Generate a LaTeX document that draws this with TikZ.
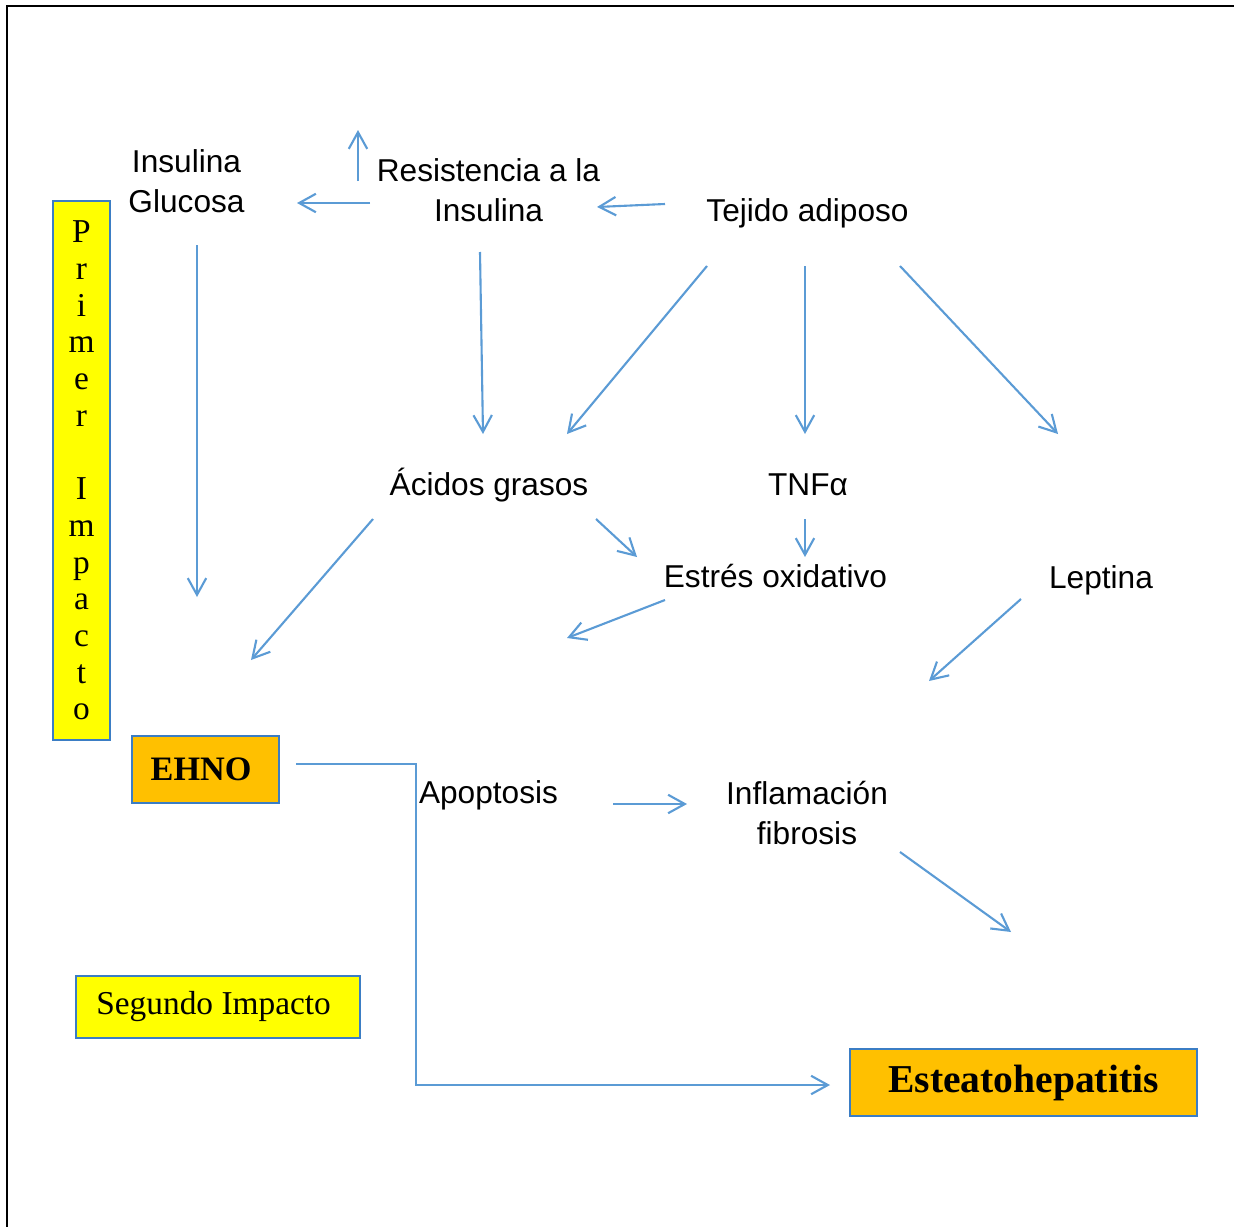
\documentclass[tikz,border=0pt]{standalone}
\usepackage{fontspec}
\setmainfont{Liberation Serif}
\setsansfont{Liberation Sans}
\usetikzlibrary{arrows.meta}
\usetikzlibrary{positioning}
\definecolor{FlechaAzul}{HTML}{5B9BD5}
\definecolor{BordeAzul}{HTML}{3B7DC4}
\definecolor{Amarillo}{HTML}{FFFF00}
\definecolor{Naranja}{HTML}{FFC000}
\tikzset{
  lbl/.style={font=\sffamily\fontsize{18}{22.5}\selectfont, inner sep=0pt, align=center},
  arr/.style={draw=FlechaAzul, line width=1.2pt, -{Straight Barb[length=9.5pt,width=10.5pt]}},
  caja/.style={rectangle, draw=BordeAzul, line width=0.7pt, inner sep=0pt, align=center},
}

\begin{document}
\begin{tikzpicture}[x=0.02cm, y=-0.02cm]
  \useasboundingbox (0,0) rectangle (1234,1227);
  % marco
  \draw[black, line width=1.1pt] (7,1227) -- (7,6) -- (1234,6);
  %
  % textos
  \node [lbl] (insglu) at (186.5,181) {Insulina\\Glucosa};
  \node [lbl] (resist) at (488.5,190) {Resistencia a la\\Insulina};
  \node [lbl, anchor=base] (tejido) at (807.5,221) {Tejido adiposo};
  \node [lbl, anchor=base] (acidos) at (489,495) {Ácidos grasos};
  \node [lbl, anchor=base] (tnf) at (808,495) {TNFα};
  \node [lbl, anchor=base] (estres) at (775.5,587) {Estrés oxidativo};
  \node [lbl, anchor=base] (leptina) at (1101,588) {Leptina};
  \node [lbl, anchor=base] (apoptosis) at (488.5,803) {Apoptosis};
  \node [lbl] (inflam) at (807,813) {Inflamación\\fibrosis};
  %
  % cajas
  \node [caja, fill=Amarillo, minimum width=1.14cm, minimum height=10.78cm,
    font=\fontsize{19}{20.9}\selectfont] (primer) at (81.5,470.5)
    {P\\r\\i\\m\\e\\r\\\mbox{}\\I\\m\\p\\a\\c\\t\\o};
  \node [caja, fill=Naranja, minimum width=2.94cm, minimum height=1.34cm,
    font=\bfseries\fontsize{19.5}{24}\selectfont] (ehno) at (205.5,769.5) {EHNO\hspace{5pt}};
  \node [caja, fill=Amarillo, minimum width=5.68cm, minimum height=1.24cm,
    font=\fontsize{19}{23}\selectfont] (segundo) at (218,1007) {Segundo Impacto\hspace{5pt}};
  \node [caja, fill=Naranja, minimum width=6.94cm, minimum height=1.34cm,
    font=\bfseries\fontsize{22.5}{26}\selectfont] (esteato) at (1023.5,1082.5) {Esteatohepatitis};
  %
  % extremos de las flechas
  \coordinate (resA) at (358,181);   \coordinate (resB) at (358,130);
  \coordinate (resC) at (370,203);   \coordinate (igE) at (297,203);
  \coordinate (tejA) at (665,204);   \coordinate (resE) at (597,207);
  \coordinate (igA) at (197,245);    \coordinate (igB) at (197,597);
  \coordinate (resD) at (480,252);   \coordinate (acE) at (483,434);
  \coordinate (tejB) at (707,266);   \coordinate (acF) at (567,434);
  \coordinate (tejC) at (805,266);   \coordinate (tnfE) at (805,434);
  \coordinate (tejD) at (900,266);   \coordinate (lepE) at (1058,434);
  \coordinate (acA) at (373,519);    \coordinate (acB) at (251,660);
  \coordinate (acC) at (596,519);    \coordinate (estE) at (637,557);
  \coordinate (tnfA) at (805,519);   \coordinate (estF) at (805,557);
  \coordinate (estA) at (665,600);   \coordinate (estB) at (567,638);
  \coordinate (lepA) at (1021,599);  \coordinate (lepB) at (929,681);
  \coordinate (apoA) at (613,804);   \coordinate (infE) at (687,804);
  \coordinate (infA) at (900,852);   \coordinate (infB) at (1011,932);
  \coordinate (ehA) at (296,764);    \coordinate (codo) at (416,764);
  \coordinate (estC) at (830,1085);
  %
  % flechas
  \draw[arr] (resA) -- (resB);
  \draw[arr] (resC) -- (igE);
  \draw[arr] (tejA) -- (resE);
  \draw[arr] (igA) -- (igB);
  \draw[arr] (resD) -- (acE);
  \draw[arr] (tejB) -- (acF);
  \draw[arr] (tejC) -- (tnfE);
  \draw[arr] (tejD) -- (lepE);
  \draw[arr] (acA) -- (acB);
  \draw[arr] (acC) -- (estE);
  \draw[arr] (tnfA) -- (estF);
  \draw[arr] (estA) -- (estB);
  \draw[arr] (lepA) -- (lepB);
  \draw[arr] (apoA) -- (infE);
  \draw[arr] (infA) -- (infB);
  \draw[arr] (ehA) -- (codo) |- (estC);
\end{tikzpicture}
\end{document}
